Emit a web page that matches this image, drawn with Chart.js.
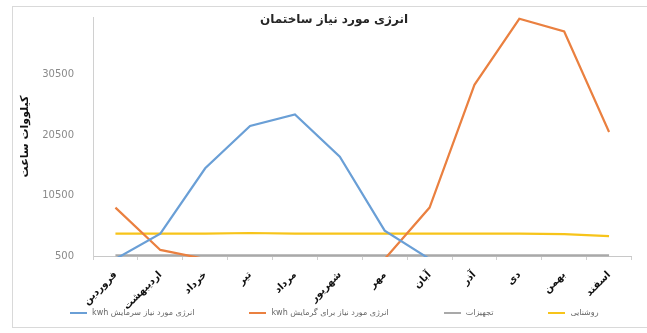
<!DOCTYPE html>
<html lang="fa">
<head>
<meta charset="utf-8">
<title>انرژی مورد نیاز ساختمان</title>
<script src="https://cdn.jsdelivr.net/npm/chart.js@4.4.1/dist/chart.umd.min.js"></script>
<style>
  html, body { margin: 0; padding: 0; background: #fff; }
  #wrap { position: relative; width: 647px; height: 333px; }
  #chart { position: absolute; left: 0; top: 0; }
  /* marco gris claro alrededor del gráfico */
  #frame {
    position: absolute; left: 12px; top: 6px; width: 640px; height: 320px;
    border-left: 1px solid #d9d9d9; border-top: 1px solid #d9d9d9; border-bottom: 1px solid #d9d9d9;
    pointer-events: none;
  }
  #legend {
    position: absolute; left: 70px; top: 308px;
    display: flex; align-items: center; gap: 55px;
    font: 8px "DejaVu Sans", sans-serif; color: #666;
  }
  #legend .item { display: flex; align-items: center; gap: 5px; }
  #legend .swatch { width: 17px; height: 2px; }
</style>
</head>
<body>
<div id="wrap">
  <canvas id="chart" width="647" height="333"></canvas>
  <div id="frame"></div>
  <div id="legend"></div>
</div>
<script>
// Meses del año solar (eje X)
const MONTHS = ['فروردین', 'اردیبهشت', 'خرداد', 'تیر', 'مرداد', 'شهریور', 'مهر', 'آبان', 'آذر', 'دی', 'بهمن', 'اسفند'];

// Consumo mensual (kWh)
const COOLING  = [0, 4200, 15000, 22000, 23900, 16900, 4700, 0, 0, 0, 0, 0];
const HEATING  = [8500, 1500, 0, 0, 0, 0, 0, 8500, 28800, 39700, 37600, 21000];
const EQUIPMENT = [600, 600, 600, 600, 600, 600, 600, 600, 600, 600, 600, 600];
const LIGHTING = [4200, 4200, 4200, 4300, 4200, 4200, 4200, 4200, 4200, 4200, 4100, 3800];

// Marcas del eje Y
const Y_TICKS = [500, 10500, 20500, 30500];
const Y_MIN = 500;
const Y_MAX = 40000;

const TITLE = 'انرژی مورد نیاز ساختمان';
const Y_TITLE = 'کیلووات ساعت';

const FONT = '"DejaVu Sans", sans-serif';

const SERIES = [
  { label: 'انرژی مورد نیاز سرمایش kwh', data: COOLING, color: '#6a9fd6' },
  { label: 'انرژی مورد نیاز برای گرمایش kwh', data: HEATING, color: '#ea8040' },
  { label: 'تجهیزات', data: EQUIPMENT, color: '#a9a9a9' },
  { label: 'روشنایی', data: LIGHTING, color: '#f7c41a' },
];

// Título dibujado sobre el área del gráfico (no reserva espacio)
const overlayTitle = {
  id: 'overlayTitle',
  afterDraw(chart) {
    const ctx = chart.ctx;
    ctx.save();
    ctx.font = 'bold 12px ' + FONT;
    ctx.fillStyle = '#262626';
    ctx.textAlign = 'center';
    ctx.textBaseline = 'middle';
    ctx.fillText(TITLE, 334, 20);
    ctx.restore();
  },
};

const chart = new Chart(document.getElementById('chart'), {
  type: 'line',
  data: {
    labels: MONTHS,
    datasets: SERIES.map(s => ({
      label: s.label,
      data: s.data,
      borderColor: s.color,
      backgroundColor: s.color,
      borderWidth: 2.2,
      pointRadius: 0,
      tension: 0,
      clip: 1,
    })),
  },
  options: {
    responsive: false,
    animation: false,
    layout: { padding: { left: 12, right: 15.5, top: 13, bottom: 0 } },
    plugins: {
      legend: { display: false },
      tooltip: { enabled: false },
    },
    scales: {
      x: {
        offset: true,
        grid: { drawOnChartArea: false, drawTicks: true, tickLength: 4, color: '#d0d0d0', offset: true },
        border: { color: '#c8c8c8', width: 1 },
        ticks: {
          autoSkip: false,
          minRotation: 45,
          maxRotation: 45,
          padding: 9,
          color: '#111',
          font: { family: FONT, size: 10, weight: 'bold' },
        },
        afterFit(scale) { scale.height = 77; },
      },
      y: {
        min: Y_MIN,
        max: Y_MAX,
        grid: { display: false },
        border: { color: '#d0d0d0', width: 1 },
        ticks: {
          padding: 11,
          color: '#8a8a8a',
          font: { family: FONT, size: 10 },
          callback: v => String(v),
        },
        afterBuildTicks(scale) { scale.ticks = Y_TICKS.map(v => ({ value: v })); },
        afterFit(scale) { scale.width = 93 - 12; },
        title: {
          display: true,
          text: Y_TITLE,
          color: '#111',
          padding: { top: 7 },
          font: { family: FONT, size: 11, weight: 'bold' },
        },
      },
    },
  },
  plugins: [overlayTitle],
});

// Leyenda en HTML a partir de los datasets
document.getElementById('legend').innerHTML = chart.data.datasets.map(d => `
  <div class="item">
    <span class="swatch" style="background:${d.borderColor}"></span>
    <span dir="rtl">${d.label}</span>
  </div>
`).join('');
</script>
</body>
</html>
